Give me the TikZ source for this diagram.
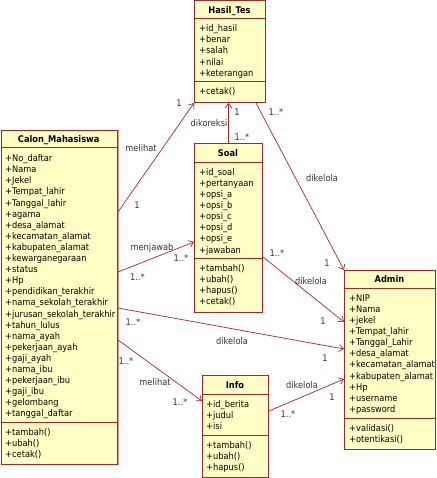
\documentclass[tikz,border=0pt]{standalone}
\usepackage{fontspec}
\setmainfont{DejaVu Sans Condensed}
\usetikzlibrary{arrows.meta}
\definecolor{bord}{HTML}{A02828}
\definecolor{clsfill}{HTML}{FFFFC6}
\definecolor{lbl}{HTML}{333333}
\definecolor{shadeline}{HTML}{D49A9A}
\begin{document}
\begin{tikzpicture}[x=1pt,y=-1pt,
 cls/.style={draw=bord,fill=clsfill,line width=1pt,anchor=north west,inner sep=0pt,rectangle},
 txt/.style={font=\fontsize{9.2}{10}\selectfont,inner sep=0pt,text height=6.6pt,text depth=0pt,anchor=west},
 ttl/.style={font=\fontsize{9.2}{10}\selectfont\bfseries,inner sep=0pt,text height=6.6pt,text depth=0pt},
 lab/.style={font=\fontsize{9.2}{10}\selectfont,text=lbl,inner sep=0pt,text height=6.6pt,text depth=0pt},
 assoc/.style={draw=bord,line width=0.7pt,-{Straight Barb[length=4.5pt,width=7pt]}},
 sepline/.style={draw=bord,line width=1pt}]
\useasboundingbox (0,0) rectangle (436,478);

% class boxes
\node[cls,minimum width=71pt,minimum height=101.5pt] (hasil) at (194,0.5) {};
\node[cls,minimum width=116.5pt,minimum height=334pt] (calon) at (0.5,130) {};
\node[cls,minimum width=68pt,minimum height=169pt] (soal) at (194,143) {};
\node[cls,minimum width=91pt,minimum height=179pt] (admin) at (344,270) {};
\node[cls,minimum width=66pt,minimum height=102pt] (info) at (202,375) {};
\draw[shadeline,line width=1.3pt] ([xshift=0.3pt]calon.north east) -- ([xshift=0.3pt]calon.south east);

% compartments
\draw[sepline] ([yshift=-18.5pt]hasil.north west) -- ([yshift=-18.5pt]hasil.north east);
\draw[sepline] ([yshift=-81.5pt]hasil.north west) -- ([yshift=-81.5pt]hasil.north east);
\draw[sepline] ([yshift=-18pt]calon.north west) -- ([yshift=-18pt]calon.north east);
\draw[sepline] ([yshift=-292pt]calon.north west) -- ([yshift=-292pt]calon.north east);
\draw[sepline] ([yshift=-20pt]soal.north west) -- ([yshift=-20pt]soal.north east);
\draw[sepline] ([yshift=-115pt]soal.north west) -- ([yshift=-115pt]soal.north east);
\draw[sepline] ([yshift=-18pt]admin.north west) -- ([yshift=-18pt]admin.north east);
\draw[sepline] ([yshift=-148pt]admin.north west) -- ([yshift=-148pt]admin.north east);
\draw[sepline] ([yshift=-19pt]info.north west) -- ([yshift=-19pt]info.north east);
\draw[sepline] ([yshift=-60pt]info.north west) -- ([yshift=-60pt]info.north east);

% titles
\node[ttl] (hasilT) at (229.5,10) {Hasil\_Tes};
\node[ttl] (calonT) at (58.7,139.5) {Calon\_Mahasiswa};
\node[ttl] (soalT) at (228,153) {Soal};
\node[ttl] (adminT) at (389.5,279) {Admin};
\node[ttl] (infoT) at (235,385) {Info};

% Hasil_Tes
\foreach \t [count=\i] in {+id\_hasil,+benar,+salah,+nilai,+keterangan}
  \node[txt] (hasilA\i) at (199,{28.5+11.1*(\i-1)}) {\t};
\node[txt] (hasilM1) at (199,91.5) {+cetak()};

% Calon_Mahasiswa
\foreach \t [count=\i] in {+No\_daftar,+Nama,+Jekel,+Tempat\_lahir,+Tanggal\_lahir,+agama,+desa\_alamat,+kecamatan\_alamat,+kabupaten\_alamat,+kewarganegaraan,+status,+Hp,+pendidikan\_terakhir,+nama\_sekolah\_terakhir,+jurusan\_sekolah\_terakhir,+tahun\_lulus,+nama\_ayah,+pekerjaan\_ayah,+gaji\_ayah,+nama\_ibu,+pekerjaan\_ibu,+gaji\_ibu,+gelombang,+tanggal\_daftar}
  \node[txt] (calonA\i) at (5,{158.3+11.1*(\i-1)}) {\t};
\foreach \t [count=\i] in {+tambah(),+ubah(),+cetak()}
  \node[txt] (calonM\i) at (5,{431.7+11.1*(\i-1)}) {\t};

% Soal
\foreach \t [count=\i] in {+id\_soal,+pertanyaan,+opsi\_a,+opsi\_b,+opsi\_c,+opsi\_d,+opsi\_e,+jawaban}
  \node[txt] (soalA\i) at (199,{172+11.1*(\i-1)}) {\t};
\foreach \t [count=\i] in {+tambah(),+ubah(),+hapus(),+cetak()}
  \node[txt] (soalM\i) at (199,{268+11.1*(\i-1)}) {\t};

% Admin
\foreach \t [count=\i] in {+NIP,+Nama,+jekel,+Tempat\_lahir,+Tanggal\_Lahir,+desa\_alamat,+kecamatan\_alamat,+kabupaten\_alamat,+Hp,+username,+password}
  \node[txt] (adminA\i) at (349,{298+11.1*(\i-1)}) {\t};
\foreach \t [count=\i] in {+validasi(),+otentikasi()}
  \node[txt] (adminM\i) at (349,{428+11.1*(\i-1)}) {\t};

% Info
\foreach \t [count=\i] in {+id\_berita,+judul,+isi}
  \node[txt] (infoA\i) at (206,{404+11.1*(\i-1)}) {\t};
\foreach \t [count=\i] in {+tambah(),+ubah(),+hapus()}
  \node[txt] (infoM\i) at (206,{445+11.1*(\i-1)}) {\t};

% associations
\draw[assoc] ([yshift=-82pt]calon.north east) -- (hasil.south west);
\draw[assoc] (soal.north) -- (soal.north |- hasil.south);
\draw[assoc] ([xshift=62pt]hasil.south west) -- (admin.north west);
\draw[assoc] ([yshift=-142pt]calon.north east) -- ([yshift=-99pt]soal.north west);
\draw[assoc] ([yshift=-114pt]soal.north east) -- ([yshift=-52pt]admin.north west);
\draw[assoc] ([yshift=-178pt]calon.north east) -- ([yshift=-79pt]admin.north west);
\draw[assoc] ([yshift=-210pt]calon.north east) -- ([yshift=-26pt]info.north west);
\draw[assoc] ([yshift=-36pt]info.north east) -- ([yshift=-109pt]admin.north west);

% labels
\node[lab] (l1) at (141,148) {melihat};
\node[lab] (l2) at (179,103) {1};
\node[lab] (l3) at (137,205) {1};
\node[lab] (l4) at (209,123) {dikoreksi};
\node[lab] (l5) at (237,112) {1};
\node[lab] (l6) at (242,137) {1..*};
\node[lab] (l7) at (276,112) {1..*};
\node[lab] (l8) at (322,178) {dikelola};
\node[lab] (l9) at (327,263) {1};
\node[lab] (l10) at (152,247) {menjawab};
\node[lab] (l11) at (181,258) {1..*};
\node[lab] (l12) at (137.5,277) {1..*};
\node[lab] (l13) at (277,253) {1..*};
\node[lab] (l14) at (311,281) {dikelola};
\node[lab] (l15) at (323,321) {1};
\node[lab] (l16) at (133,322) {1..*};
\node[lab] (l17) at (232,341) {dikelola};
\node[lab] (l18) at (325,358) {1};
\node[lab] (l19) at (126,361) {1..*};
\node[lab] (l20) at (155,382) {melihat};
\node[lab] (l21) at (180,402) {1..*};
\node[lab] (l22) at (302,385) {dikelola};
\node[lab] (l23) at (288,414) {1..*};
\node[lab] (l24) at (332,397) {1};
\end{tikzpicture}
\end{document}
